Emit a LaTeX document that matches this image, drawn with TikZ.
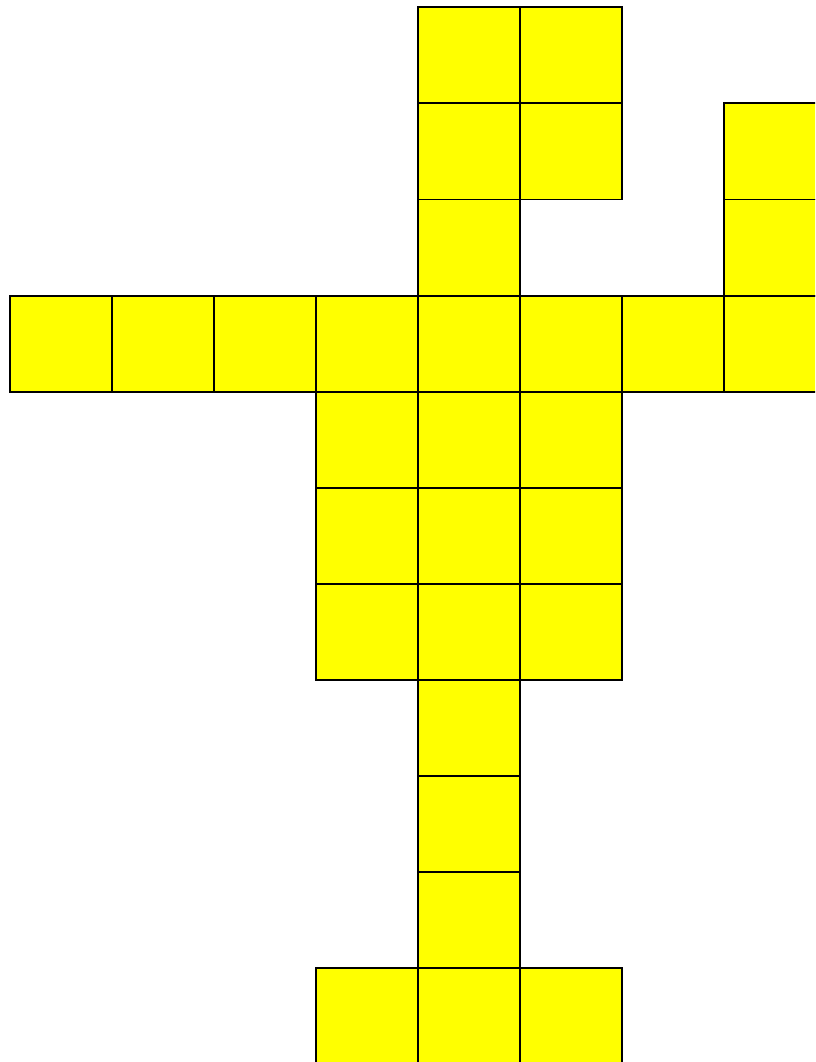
\documentclass[tikz,border=0pt]{standalone}
\definecolor{cellyellow}{RGB}{255,255,0}
\begin{document}
\begin{tikzpicture}[x=1pt,y=-1pt,
  cell/.style={draw=black,fill=cellyellow,line width=1.8pt,minimum width=102pt,minimum height=96.1pt,inner sep=0pt,outer sep=0pt,anchor=north west}]
\useasboundingbox (0,0) rectangle (815,1062);
\clip (0,0) rectangle (815,1062);
% rows: top edges at 7 + 96.1*r ; columns: left edges at 10 + 102*c
\foreach \r/\c in {0/4,0/5,1/4,1/5,1/7,2/4,2/7,
  3/0,3/1,3/2,3/3,3/4,3/5,3/6,3/7,
  4/3,4/4,4/5,5/3,5/4,5/5,6/3,6/4,6/5,
  7/4,8/4,9/4,10/3,10/4,10/5}{
  \node[cell] (c\r-\c) at ({10+102*\c},{7.3+96.1*\r}) {};
}
\end{tikzpicture}
\end{document}
